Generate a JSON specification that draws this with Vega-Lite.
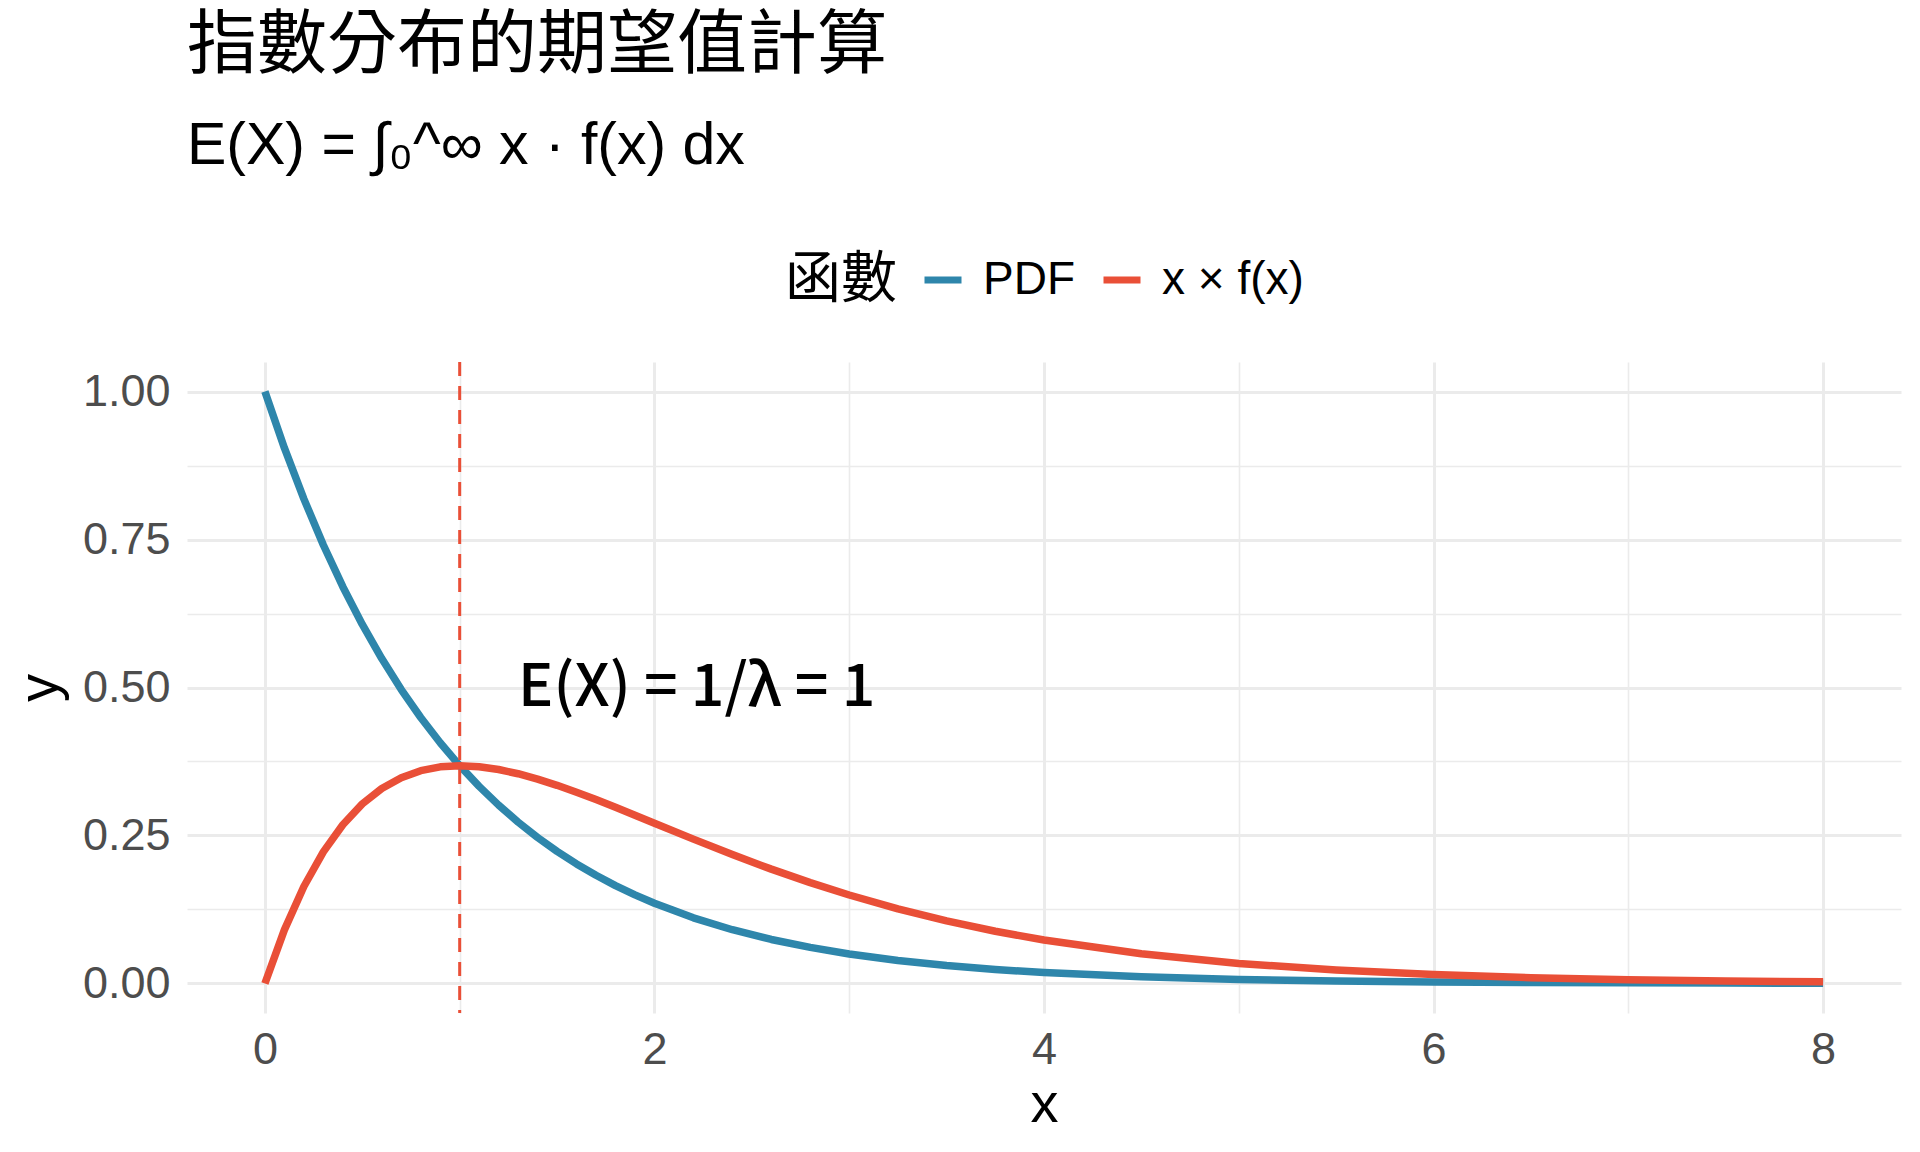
{
  "$schema": "https://vega.github.io/schema/vega-lite/v6.json",
  "autosize": {"type": "none"},
  "width": 1714,
  "height": 651,
  "padding": {"left": 187, "top": 362, "right": 19, "bottom": 139},
  "background": "white",
  "config": {"view": {"stroke": null}},
  "title": {
    "text": "指數分布的期望值計算",
    "subtitle": "E(X) = ∫₀^∞ x · f(x) dx",
    "anchor": "start",
    "frame": "group",
    "font": "Liberation Sans, Noto Sans CJK TC",
    "fontSize": 70,
    "fontWeight": "normal",
    "color": "black",
    "subtitleFont": "Liberation Sans, Noto Sans CJK TC",
    "subtitleFontSize": 59,
    "subtitleColor": "black",
    "subtitlePadding": 34,
    "offset": 80
  },
  "datasets": {
    "curves": [
      {"x": 0, "y": 1, "series": "PDF"},
      {"x": 0.1, "y": 0.904837, "series": "PDF"},
      {"x": 0.2, "y": 0.818731, "series": "PDF"},
      {"x": 0.3, "y": 0.740818, "series": "PDF"},
      {"x": 0.4, "y": 0.67032, "series": "PDF"},
      {"x": 0.5, "y": 0.606531, "series": "PDF"},
      {"x": 0.6, "y": 0.548812, "series": "PDF"},
      {"x": 0.7, "y": 0.496585, "series": "PDF"},
      {"x": 0.8, "y": 0.449329, "series": "PDF"},
      {"x": 0.9, "y": 0.40657, "series": "PDF"},
      {"x": 1.0, "y": 0.367879, "series": "PDF"},
      {"x": 1.1, "y": 0.332871, "series": "PDF"},
      {"x": 1.2, "y": 0.301194, "series": "PDF"},
      {"x": 1.3, "y": 0.272532, "series": "PDF"},
      {"x": 1.4, "y": 0.246597, "series": "PDF"},
      {"x": 1.5, "y": 0.22313, "series": "PDF"},
      {"x": 1.6, "y": 0.201897, "series": "PDF"},
      {"x": 1.7, "y": 0.182684, "series": "PDF"},
      {"x": 1.8, "y": 0.165299, "series": "PDF"},
      {"x": 1.9, "y": 0.149569, "series": "PDF"},
      {"x": 2.0, "y": 0.135335, "series": "PDF"},
      {"x": 2.2, "y": 0.110803, "series": "PDF"},
      {"x": 2.4, "y": 0.090718, "series": "PDF"},
      {"x": 2.6, "y": 0.074274, "series": "PDF"},
      {"x": 2.8, "y": 0.06081, "series": "PDF"},
      {"x": 3.0, "y": 0.049787, "series": "PDF"},
      {"x": 3.25, "y": 0.038774, "series": "PDF"},
      {"x": 3.5, "y": 0.030197, "series": "PDF"},
      {"x": 3.75, "y": 0.023518, "series": "PDF"},
      {"x": 4.0, "y": 0.018316, "series": "PDF"},
      {"x": 4.5, "y": 0.011109, "series": "PDF"},
      {"x": 5.0, "y": 0.006738, "series": "PDF"},
      {"x": 5.5, "y": 0.004087, "series": "PDF"},
      {"x": 6.0, "y": 0.002479, "series": "PDF"},
      {"x": 6.5, "y": 0.001503, "series": "PDF"},
      {"x": 7.0, "y": 0.000912, "series": "PDF"},
      {"x": 7.5, "y": 0.000553, "series": "PDF"},
      {"x": 8.0, "y": 0.000335, "series": "PDF"},
      {"x": 0, "y": 0, "series": "x × f(x)"},
      {"x": 0.1, "y": 0.090484, "series": "x × f(x)"},
      {"x": 0.2, "y": 0.163746, "series": "x × f(x)"},
      {"x": 0.3, "y": 0.222245, "series": "x × f(x)"},
      {"x": 0.4, "y": 0.268128, "series": "x × f(x)"},
      {"x": 0.5, "y": 0.303265, "series": "x × f(x)"},
      {"x": 0.6, "y": 0.329287, "series": "x × f(x)"},
      {"x": 0.7, "y": 0.34761, "series": "x × f(x)"},
      {"x": 0.8, "y": 0.359463, "series": "x × f(x)"},
      {"x": 0.9, "y": 0.365913, "series": "x × f(x)"},
      {"x": 1.0, "y": 0.367879, "series": "x × f(x)"},
      {"x": 1.1, "y": 0.366158, "series": "x × f(x)"},
      {"x": 1.2, "y": 0.361433, "series": "x × f(x)"},
      {"x": 1.3, "y": 0.354292, "series": "x × f(x)"},
      {"x": 1.4, "y": 0.345236, "series": "x × f(x)"},
      {"x": 1.5, "y": 0.334695, "series": "x × f(x)"},
      {"x": 1.6, "y": 0.323035, "series": "x × f(x)"},
      {"x": 1.7, "y": 0.310563, "series": "x × f(x)"},
      {"x": 1.8, "y": 0.297538, "series": "x × f(x)"},
      {"x": 1.9, "y": 0.284181, "series": "x × f(x)"},
      {"x": 2.0, "y": 0.270671, "series": "x × f(x)"},
      {"x": 2.2, "y": 0.243767, "series": "x × f(x)"},
      {"x": 2.4, "y": 0.217723, "series": "x × f(x)"},
      {"x": 2.6, "y": 0.193112, "series": "x × f(x)"},
      {"x": 2.8, "y": 0.170268, "series": "x × f(x)"},
      {"x": 3.0, "y": 0.149361, "series": "x × f(x)"},
      {"x": 3.25, "y": 0.126016, "series": "x × f(x)"},
      {"x": 3.5, "y": 0.10569, "series": "x × f(x)"},
      {"x": 3.75, "y": 0.088193, "series": "x × f(x)"},
      {"x": 4.0, "y": 0.073263, "series": "x × f(x)"},
      {"x": 4.5, "y": 0.04999, "series": "x × f(x)"},
      {"x": 5.0, "y": 0.03369, "series": "x × f(x)"},
      {"x": 5.5, "y": 0.022479, "series": "x × f(x)"},
      {"x": 6.0, "y": 0.014873, "series": "x × f(x)"},
      {"x": 6.5, "y": 0.00977, "series": "x × f(x)"},
      {"x": 7.0, "y": 0.006383, "series": "x × f(x)"},
      {"x": 7.5, "y": 0.004148, "series": "x × f(x)"},
      {"x": 8.0, "y": 0.002684, "series": "x × f(x)"}
    ],
    "vline": [{"ex": 1}],
    "note": [{"x": 1.3, "y": 0.5, "label": "E(X) = 1/λ = 1"}]
  },
  "layer": [
    {
      "data": {"name": "curves"},
      "mark": {"type": "line", "strokeWidth": 7.5, "strokeCap": "butt", "strokeJoin": "round"},
      "encoding": {
        "x": {
          "field": "x", "type": "quantitative",
          "scale": {"domain": [-0.4, 8.4], "nice": false, "zero": false},
          "axis": {
            "title": "x",
            "values": [0, 1, 2, 3, 4, 5, 6, 7, 8],
            "labelExpr": "datum.value % 2 === 0 ? format(datum.value, 'd') : ''",
            "domain": false, "ticks": false,
            "grid": true,
            "gridColor": "#ebebeb",
            "gridWidth": {"condition": {"test": "datum.value % 2 === 0", "value": 3}, "value": 1.6},
            "labelFont": "Liberation Sans", "labelFontSize": 45, "labelColor": "#4d4d4d",
            "labelPadding": 14,
            "titleFont": "Liberation Sans", "titleFontSize": 56, "titleFontWeight": "normal", "titleColor": "black",
            "titlePadding": 5
          }
        },
        "y": {
          "field": "y", "type": "quantitative",
          "scale": {"domain": [-0.05, 1.05], "nice": false, "zero": false},
          "axis": {
            "title": "y",
            "values": [0, 0.125, 0.25, 0.375, 0.5, 0.625, 0.75, 0.875, 1],
            "labelExpr": "(datum.value * 4) % 1 === 0 ? format(datum.value, '.2f') : ''",
            "domain": false, "ticks": false,
            "grid": true,
            "gridColor": "#ebebeb",
            "gridWidth": {"condition": {"test": "(datum.value * 4) % 1 === 0", "value": 3}, "value": 1.6},
            "labelFont": "Liberation Sans", "labelFontSize": 45, "labelColor": "#4d4d4d",
            "labelPadding": 17,
            "titleFont": "Liberation Sans", "titleFontSize": 56, "titleFontWeight": "normal", "titleColor": "black",
            "titlePadding": 14
          }
        },
        "color": {
          "field": "series", "type": "nominal",
          "scale": {"domain": ["PDF", "x × f(x)"], "range": ["#2E86AB", "#E94F37"]},
          "legend": {
            "title": "函數",
            "orient": "none",
            "legendX": 598,
            "legendY": -105,
            "direction": "horizontal",
            "titleOrient": "left",
            "titleFont": "Liberation Sans, Noto Sans CJK TC",
            "titleFontSize": 56,
            "titleFontWeight": "normal",
            "titleColor": "black",
            "titlePadding": 23,
            "labelFont": "Liberation Sans",
            "labelFontSize": 46,
            "labelColor": "black",
            "labelOffset": 17,
            "columnPadding": 14,
            "symbolType": "stroke",
            "symbolStrokeWidth": 7,
            "symbolSize": 1369
          }
        }
      }
    },
    {
      "data": {"name": "vline"},
      "mark": {"type": "rule", "color": "#E94F37", "strokeWidth": 3, "strokeDash": [14, 10]},
      "encoding": {"x": {"field": "ex", "type": "quantitative"}}
    },
    {
      "data": {"name": "note"},
      "mark": {"type": "text", "align": "left", "baseline": "middle", "font": "Noto Sans CJK TC", "fontSize": 59, "fontWeight": 500, "color": "black"},
      "encoding": {
        "x": {"field": "x", "type": "quantitative"},
        "y": {"field": "y", "type": "quantitative"},
        "text": {"field": "label"}
      }
    }
  ]
}
